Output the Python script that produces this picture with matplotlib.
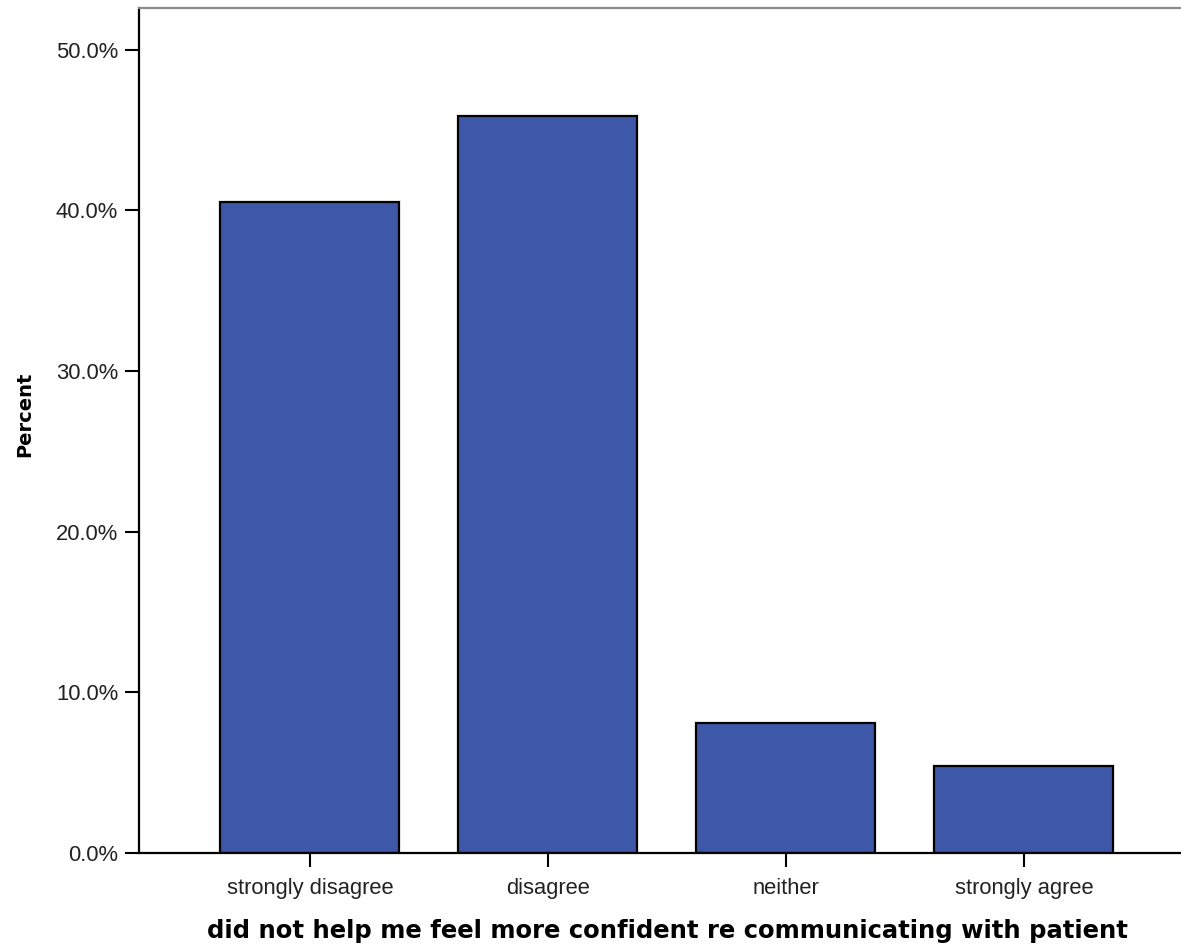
import matplotlib
matplotlib.use("Agg")
import matplotlib.pyplot as plt
import numpy as np

# --- datos ---
categories = ["strongly disagree", "disagree", "neither", "strongly agree"]
percents = [40.5, 45.9, 8.1, 5.4]
y_ticks = [0, 10, 20, 30, 40, 50]
x_title = "did not help me feel more confident re communicating with patient"
y_title = "Percent"

W, H = 1181, 949
fig = plt.figure(figsize=(W / 100, H / 100), dpi=100)
ax = fig.add_axes([139 / W, 96 / H, 1 - 139 / W, 845 / H])

x = np.arange(len(categories))
ax.bar(x, percents, width=0.752, color="#3d57a9", edgecolor="black", linewidth=1.6)

ax.set_xlim(-0.718, 3.66)
ax.set_ylim(0, 52.6)

ax.set_xticks(x)
ax.set_xticklabels(categories, fontfamily="Liberation Sans", fontsize=15.8, color="#222222")
ax.set_yticks(y_ticks)
ax.set_yticklabels([f"{v:.1f}%" for v in y_ticks], fontfamily="Liberation Sans", fontsize=15.8, color="#222222")

ax.tick_params(axis="x", length=10, width=1.5, pad=8)
ax.tick_params(axis="y", length=10, width=1.5, pad=5)

for side in ["left", "bottom"]:
    ax.spines[side].set_linewidth(1.6)
ax.spines["right"].set_visible(False)
ax.spines["top"].set_color("#8a8a8a")
ax.spines["top"].set_linewidth(1.6)

fig.text(25 / W, 1 - 414 / H, y_title, rotation=90, ha="center", va="center",
         fontfamily="DejaVu Sans", fontweight="bold", fontsize=14)
fig.text(667 / W, 1 - 931 / H, x_title, ha="center", va="center",
         fontfamily="DejaVu Sans", fontweight="bold", fontsize=17.5)

fig.savefig("out.png", dpi=100)
